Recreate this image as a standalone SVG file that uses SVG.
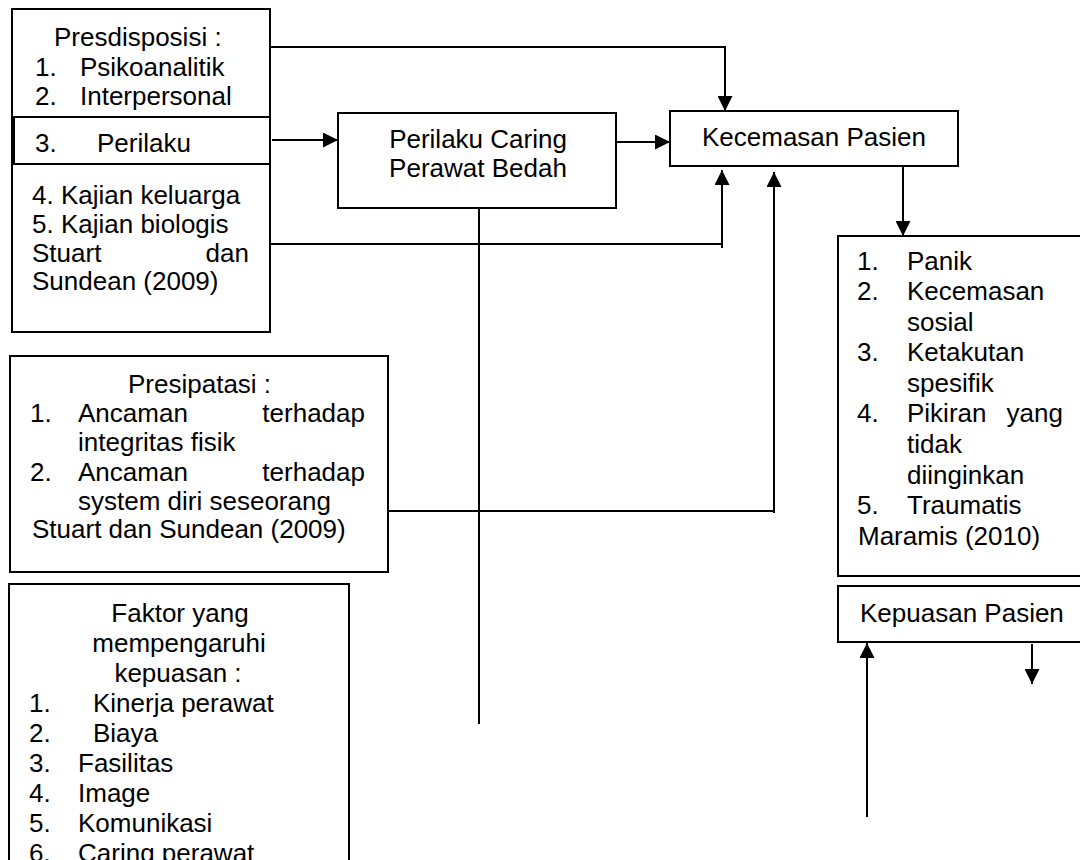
<svg xmlns="http://www.w3.org/2000/svg" width="1080" height="860" viewBox="0 0 1080 860">
<defs>
<style>
text{font-family:"Liberation Sans",Arial,sans-serif;font-size:26px;fill:#000}
.box{fill:#fff;stroke:#000;stroke-width:2}
.ln{fill:none;stroke:#000;stroke-width:2}
.c{text-anchor:middle}
.e{text-anchor:end}
</style>
<marker id="ah" viewBox="0 0 15 15" refX="15" refY="7.5" markerWidth="15" markerHeight="15" markerUnits="userSpaceOnUse" orient="auto">
<path d="M0,0 L15,7.5 L0,15 Z" fill="#000"/>
</marker>
</defs>
<rect width="1080" height="860" fill="#fff"/>

<g id="presdisposisi">
<rect class="box" x="12" y="9" width="258" height="323"/>
<rect class="box" x="14" y="117" width="256" height="47"/>
<text x="54" y="46">Presdisposisi :</text>
<text x="35" y="76">1.</text><text x="80" y="76">Psikoanalitik</text>
<text x="35" y="105">2.</text><text x="80" y="105">Interpersonal</text>
<text x="35" y="152">3.</text><text x="97" y="152">Perilaku</text>
<text x="32" y="204">4. Kajian keluarga</text>
<text x="32" y="233">5. Kajian biologis</text>
<text x="32" y="262">Stuart</text><text class="e" x="249" y="262">dan</text>
<text x="32" y="290">Sundean (2009)</text>
</g>

<g id="perilaku-caring">
<rect class="box" x="338" y="113" width="278" height="95"/>
<text class="c" x="478" y="148">Perilaku Caring</text>
<text class="c" x="478" y="177">Perawat Bedah</text>
</g>

<g id="kecemasan">
<rect class="box" x="670" y="111" width="288" height="55"/>
<text class="c" x="814" y="146">Kecemasan Pasien</text>
</g>

<g id="jenis-kecemasan">
<rect class="box" x="838" y="236" width="262" height="340"/>
<text x="857" y="270">1.</text><text x="907" y="270">Panik</text>
<text x="857" y="300">2.</text><text x="907" y="300">Kecemasan</text>
<text x="907" y="331">sosial</text>
<text x="857" y="361">3.</text><text x="907" y="361">Ketakutan</text>
<text x="907" y="392">spesifik</text>
<text x="857" y="422">4.</text><text x="907" y="422">Pikiran</text><text class="e" x="1063" y="422">yang</text>
<text x="907" y="453">tidak</text>
<text x="907" y="484">diinginkan</text>
<text x="857" y="514">5.</text><text x="907" y="514">Traumatis</text>
<text x="858" y="545">Maramis (2010)</text>
</g>

<g id="kepuasan">
<rect class="box" x="838" y="586" width="262" height="56"/>
<text x="860" y="622">Kepuasan Pasien</text>
</g>

<g id="presipatasi">
<rect class="box" x="10" y="356" width="378" height="216"/>
<text x="128" y="393">Presipatasi :</text>
<text x="30" y="422">1.</text><text x="78" y="422">Ancaman</text><text class="e" x="365" y="422">terhadap</text>
<text x="78" y="451">integritas fisik</text>
<text x="30" y="481">2.</text><text x="78" y="481">Ancaman</text><text class="e" x="365" y="481">terhadap</text>
<text x="78" y="510">system diri seseorang</text>
<text x="32" y="538">Stuart dan Sundean (2009)</text>
</g>

<g id="faktor">
<rect class="box" x="9" y="584" width="340" height="300"/>
<text class="c" x="180" y="622">Faktor yang</text>
<text class="c" x="179" y="652">mempengaruhi</text>
<text class="c" x="178" y="682">kepuasan :</text>
<text x="29" y="712">1.</text><text x="93" y="712">Kinerja perawat</text>
<text x="29" y="742">2.</text><text x="93" y="742">Biaya</text>
<text x="29" y="772">3.</text><text x="78" y="772">Fasilitas</text>
<text x="29" y="802">4.</text><text x="78" y="802">Image</text>
<text x="29" y="832">5.</text><text x="78" y="832">Komunikasi</text>
<text x="29" y="862">6.</text><text x="78" y="862">Caring perawat</text>
</g>

<g id="connectors">
<polyline class="ln" points="270,47 725,47"/>
<line class="ln" x1="725" y1="46" x2="725" y2="111" marker-end="url(#ah)"/>
<line class="ln" x1="272" y1="140" x2="338" y2="140" marker-end="url(#ah)"/>
<line class="ln" x1="616" y1="142" x2="670" y2="142" marker-end="url(#ah)"/>
<line class="ln" x1="270" y1="244" x2="722" y2="244"/>
<line class="ln" x1="722" y1="248" x2="722" y2="170" marker-end="url(#ah)"/>
<line class="ln" x1="388" y1="511" x2="774" y2="511"/>
<line class="ln" x1="774" y1="513" x2="774" y2="172" marker-end="url(#ah)"/>
<line class="ln" x1="479" y1="208" x2="479" y2="724"/>
<line class="ln" x1="903" y1="166" x2="903" y2="236" marker-end="url(#ah)"/>
<line class="ln" x1="867" y1="817" x2="867" y2="643" marker-end="url(#ah)"/>
<line class="ln" x1="1032" y1="644" x2="1032" y2="684" marker-end="url(#ah)"/>
</g>
</svg>
